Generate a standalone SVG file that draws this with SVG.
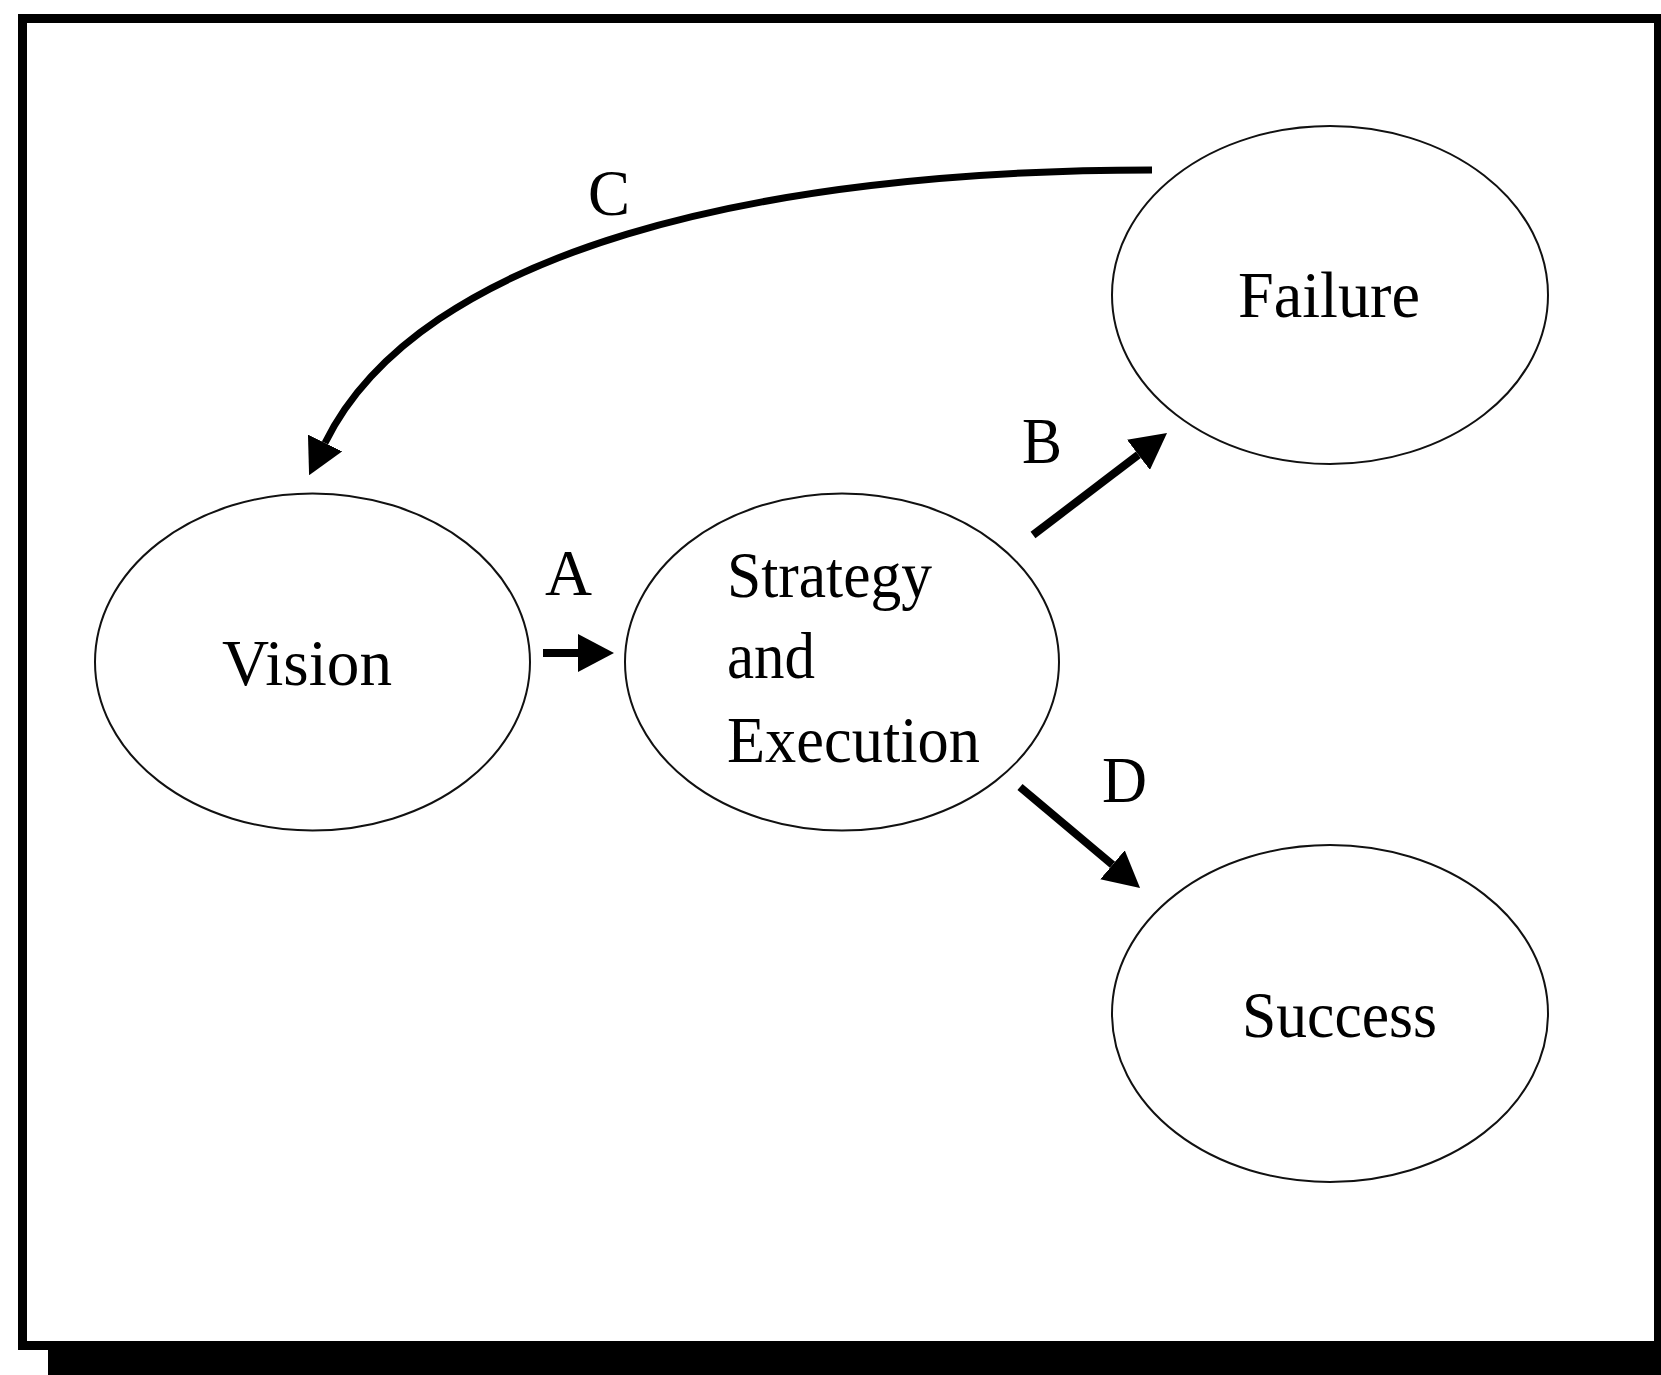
<svg xmlns="http://www.w3.org/2000/svg" width="1661" height="1375" viewBox="0 0 1661 1375">
<style>
.node ellipse{fill:#fff;stroke:#111;stroke-width:2}
text{font-family:"Liberation Serif","Times New Roman",serif;font-size:66px;fill:#000}
.conn{fill:none;stroke:#000;stroke-width:8}
</style>
<defs>
<marker id="ah" markerUnits="userSpaceOnUse" viewBox="0 0 36 38" refX="0" refY="19" markerWidth="36" markerHeight="38" orient="auto">
<path d="M0,0 L36,19 L0,38 Z" fill="#000"/>
</marker>
</defs>
<rect x="0" y="0" width="1661" height="1375" fill="#fff"/>
<rect x="48" y="1345" width="1613" height="30" fill="#000"/>
<rect x="22.5" y="18.5" width="1636" height="1327" fill="#fff" stroke="#000" stroke-width="9"/>
<g id="vision" class="node">
<ellipse cx="312.5" cy="662" rx="217.5" ry="168.5"/>
<text x="222" y="685" textLength="170" lengthAdjust="spacingAndGlyphs">Vision</text>
</g>
<g id="strategy" class="node">
<ellipse cx="842" cy="662" rx="217" ry="168.5"/>
<text x="727" y="597" textLength="205" lengthAdjust="spacingAndGlyphs">Strategy</text>
<text x="727" y="678" textLength="88" lengthAdjust="spacingAndGlyphs">and</text>
<text x="727" y="762" textLength="253" lengthAdjust="spacingAndGlyphs">Execution</text>
</g>
<g id="failure" class="node">
<ellipse cx="1330" cy="295" rx="218" ry="169"/>
<text x="1238" y="317" textLength="182" lengthAdjust="spacingAndGlyphs">Failure</text>
</g>
<g id="success" class="node">
<ellipse cx="1330" cy="1013.5" rx="218" ry="168.5"/>
<text x="1242" y="1037" textLength="195" lengthAdjust="spacingAndGlyphs">Success</text>
</g>
<g id="connectors">
<line class="conn" x1="543" y1="653" x2="578" y2="653" marker-end="url(#ah)"/>
<line class="conn" x1="1033" y1="535" x2="1138.4" y2="454.8" marker-end="url(#ah)"/>
<line class="conn" x1="1020" y1="787" x2="1112.5" y2="864.8" marker-end="url(#ah)"/>
<path class="conn" style="stroke-width:7" d="M1152,170 C760,170 420,250 325,443" marker-end="url(#ah)"/>
<text x="545" y="595" textLength="47" lengthAdjust="spacingAndGlyphs">A</text>
<text x="1022" y="463" textLength="40" lengthAdjust="spacingAndGlyphs">B</text>
<text x="588" y="215" textLength="42" lengthAdjust="spacingAndGlyphs">C</text>
<text x="1102" y="802" textLength="45" lengthAdjust="spacingAndGlyphs">D</text>
</g>
</svg>
